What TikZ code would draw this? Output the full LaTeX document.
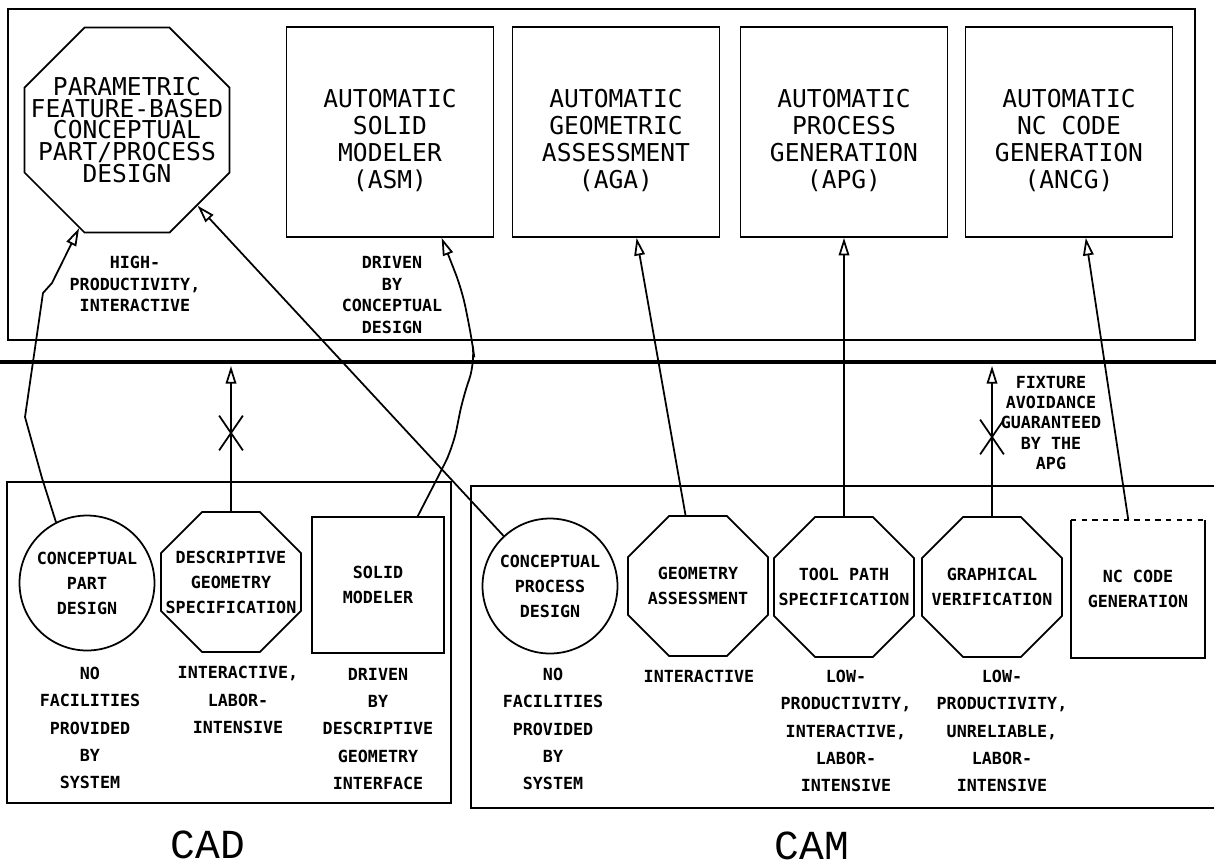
\documentclass[tikz,border=0pt]{standalone}
\usepackage{fontspec}
\setmainfont{DejaVu Sans Mono}
\newfontfamily\capfont{Liberation Mono}
\usetikzlibrary{arrows.meta}
\usetikzlibrary{shapes}
\newcommand{\boxfont}[0]{\fontsize{14}{15.2}\selectfont}
\newcommand{\octfont}[0]{\fontsize{14}{12.5}\selectfont}
\newcommand{\unitfont}[0]{\bfseries\fontsize{9.5}{14.2}\selectfont}
\newcommand{\remfont}[0]{\bfseries\fontsize{9.5}{15.6}\selectfont}
\newcommand{\toprem}[0]{\bfseries\fontsize{9.5}{12.2}\selectfont}
\tikzset{
rule/.style={
  draw=black,
  line width=1pt
  }
}
\tikzset{
autobox/.style={
  rule,
  rectangle,
  minimum width=4.14cm,
  minimum height=4.2cm
  },
boxtext/.style={
  align=center,
  font=\boxfont,
  yshift=-0.17cm
  }
}
\tikzset{
octo/.style={
  rule,
  regular polygon,
  regular polygon sides=8,
  inner sep=0pt
  },
octotext/.style={
  align=center,
  font=\unitfont
  },
ring/.style={
  rule,
  circle,
  inner sep=0pt,
  minimum size=2.7cm,
  align=center,
  font=\unitfont
  },
unitbox/.style={
  rule,
  rectangle,
  inner sep=0pt,
  minimum width=2.64cm,
  minimum height=2.72cm,
  align=center,
  font=\unitfont
  },
remark/.style={
  align=center,
  inner sep=0pt,
  font=\remfont
  },
blocked/.style={
  cross out,
  draw=black,
  line width=1pt,
  inner sep=0pt,
  minimum width=0.44cm,
  minimum height=0.66cm
  },
sidelabel/.style={
  inner sep=0pt,
  font=\capfont\fontsize{23.5}{25}\selectfont
  }
}
\tikzstyle{flow} = [draw,line width=1pt,-{Triangle[open,length=10pt,width=6pt]}]

\begin{document}
\begin{tikzpicture}[x=0.02cm, y=-0.02cm]
	\path[use as bounding box] (0,0) rectangle (1216,867);

	%frames
	\draw[rule] (8,9) rectangle (1195,340);
	\draw[line width=2.8pt] (0,362) -- (1216,362);
	\draw[rule] (7,482) rectangle (451,803);
	\draw[rule] (1214,486) -- (471,486) -- (471,808) -- (1214,808);

	%automatic system
	\node (pfd) at (127,130) [octo, minimum size=4.44cm, label={[align=center, font=\octfont]center:{PARAMETRIC\\FEATURE-BASED\\CONCEPTUAL\\PART/PROCESS\\DESIGN}}] {};
	\node (asm) at (390,132) [autobox, label={[boxtext]center:{AUTOMATIC\\SOLID\\MODELER\\(ASM)}}] {};
	\node (aga) at (616,132) [autobox, label={[boxtext]center:{AUTOMATIC\\GEOMETRIC\\ASSESSMENT\\(AGA)}}] {};
	\node (apg) at (844,132) [autobox, label={[boxtext]center:{AUTOMATIC\\PROCESS\\GENERATION\\(APG)}}] {};
	\node (ancg) at (1069,132) [autobox, label={[boxtext]center:{AUTOMATIC\\NC CODE\\GENERATION\\(ANCG)}}] {};

	\node (pfdnote) at (135,284) [remark, font=\toprem] {HIGH-\\PRODUCTIVITY,\\INTERACTIVE};
	\node (asmnote) at (392,295) [remark, font=\toprem] {DRIVEN\\BY\\CONCEPTUAL\\DESIGN};

	%cad
	\node (cpd) at (87,583) [ring] {CONCEPTUAL\\PART\\DESIGN};
	\node (dgs) at (231,582) [octo, minimum size=3.03cm, label={[octotext]center:{DESCRIPTIVE\\GEOMETRY\\SPECIFICATION}}] {};
	\node (sm) at (378,585) [unitbox] {SOLID\\MODELER};

	\node (cpdnote) at (90,728) [remark] {NO\\FACILITIES\\PROVIDED\\BY\\SYSTEM};
	\node (dgsnote) at (238,700) [remark] {INTERACTIVE,\\LABOR-\\INTENSIVE};
	\node (smnote) at (378,729) [remark] {DRIVEN\\BY\\DESCRIPTIVE\\GEOMETRY\\INTERFACE};

	%cam
	\node (cprd) at (550,586) [ring] {CONCEPTUAL\\PROCESS\\DESIGN};
	\node (ga) at (698,586) [octo, minimum size=3.03cm, label={[octotext]center:{GEOMETRY\\ASSESSMENT}}] {};
	\node (tps) at (844,587) [octo, minimum size=3.03cm, label={[octotext]center:{TOOL PATH\\SPECIFICATION}}] {};
	\node (gv) at (992,587) [octo, minimum size=3.03cm, label={[octotext]center:{GRAPHICAL\\VERIFICATION}}] {};
	\node (ncg) at (1138,589) [unitbox, draw=none] {NC CODE\\GENERATION};
	\draw[rule] (ncg.north west) -- (ncg.south west) -- (ncg.south east) -- (ncg.north east);
	\draw[rule, dashed] (ncg.north west) -- (ncg.north east);

	\node (cprdnote) at (553,729) [remark] {NO\\FACILITIES\\PROVIDED\\BY\\SYSTEM};
	\node (ganote) at (699,676) [remark] {INTERACTIVE};
	\node (tpsnote) at (846,731) [remark] {LOW-\\PRODUCTIVITY,\\INTERACTIVE,\\LABOR-\\INTENSIVE};
	\node (gvnote) at (1002,731) [remark] {LOW-\\PRODUCTIVITY,\\UNRELIABLE,\\LABOR-\\INTENSIVE};
	\node (fixnote) at (1051,423) [remark, font=\bfseries\fontsize{9.5}{11.4}\selectfont] {FIXTURE\\AVOIDANCE\\GUARANTEED\\BY THE\\APG};

	\node (cad) at (208,845) [sidelabel] {CAD};
	\node (cam) at (812,846) [sidelabel] {CAM};

	%edges
	\coordinate (dgsend) at (231,366);
	\coordinate (gvend) at (992,366);
	\node (dgsx) at (231,433) [blocked] {};
	\node (gvx) at (992,437) [blocked] {};

	\draw[flow] (cpd.117) -- (42,478) -- (25,417) -- (43,293) -- (52,283) -- (pfd.244);
	\draw[flow] (cprd) -- (pfd.313);
	\draw[flow] (dgs.north) -- (dgsend);
	\draw[flow, rounded corners=10pt] (sm.60) -- (440,473) -- (453,447) -- (463,397) -- (475,363) -- (472,340) -- (462,290) -- (asm.296);
	\draw[flow] (ga.100) -- (aga.281);
	\draw[flow] (tps.north) -- (apg.south);
	\draw[flow] (gv.north) -- (gvend);
	\draw[flow] (ncg.98) -- (ancg.279);
\end{tikzpicture}
\end{document}
